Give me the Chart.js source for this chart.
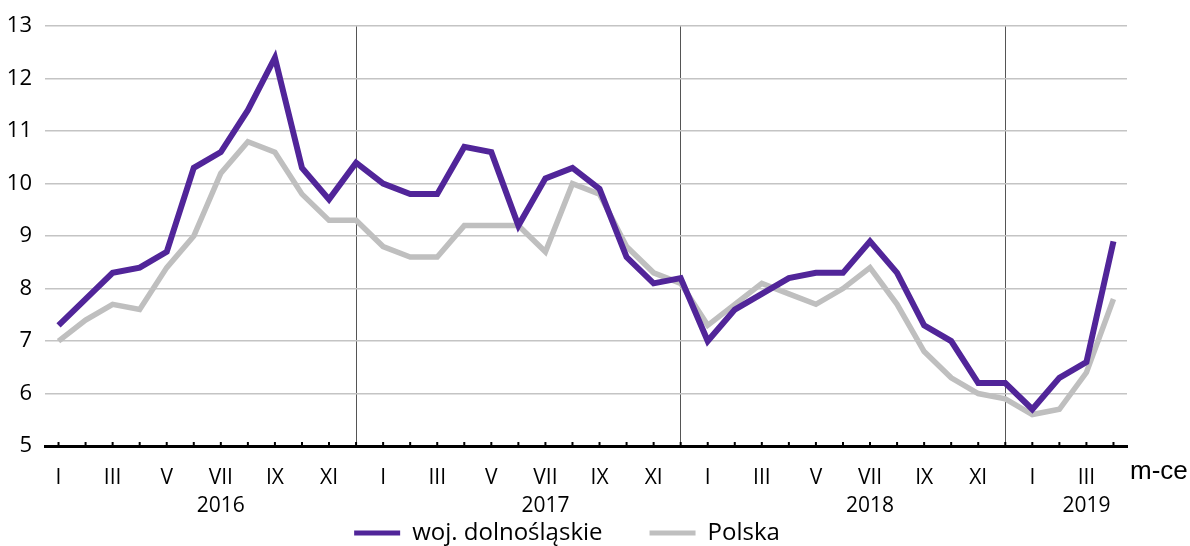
<!DOCTYPE html>
<html>
<head>
<meta charset="utf-8">
<script src="https://cdn.jsdelivr.net/npm/chart.js@4"></script>
<style>
  body { margin: 0; background: #fff; }
</style>
</head>
<body>
<canvas id="myChart" width="1190" height="546"></canvas>
<script>
// miesiące i lata na osi X
const months = ['I', 'II', 'III', 'IV', 'V', 'VI', 'VII', 'VIII', 'IX', 'X', 'XI', 'XII'];
const years = ['2016', '2017', '2018', '2019'];
const yearLabelAt = [6, 18, 30, 38];   // pod którym miesiącem stoi rok
const yearEndAt = [11, 23, 35];        // grudzień - pionowa linia

// I 2016 - IV 2019
const dolnoslaskie = [7.3, 7.8, 8.3, 8.4, 8.7, 10.3, 10.6, 11.4, 12.4, 10.3, 9.7, 10.4,
    10.0, 9.8, 9.8, 10.7, 10.6, 9.2, 10.1, 10.3, 9.9, 8.6, 8.1, 8.2,
    7.0, 7.6, 7.9, 8.2, 8.3, 8.3, 8.9, 8.3, 7.3, 7.0, 6.2, 6.2,
    5.7, 6.3, 6.6, 8.9];
const polska = [7.0, 7.4, 7.7, 7.6, 8.4, 9.0, 10.2, 10.8, 10.6, 9.8, 9.3, 9.3,
    8.8, 8.6, 8.6, 9.2, 9.2, 9.2, 8.7, 10.0, 9.8, 8.8, 8.3, 8.1,
    7.3, 7.7, 8.1, 7.9, 7.7, 8.0, 8.4, 7.7, 6.8, 6.3, 6.0, 5.9,
    5.6, 5.7, 6.4, 7.8];

const labels = dolnoslaskie.map((_, i) => months[i % 12]);

const purple = '#512599';
const grey = '#bfbfbf';

// kreski na osi X do środka wykresu + opis "m-ce"
const axisExtras = {
    id: 'axisExtras',
    afterLayout(chart) {
        // legenda wyżej niż pozwala layout - przesuwamy ją ręcznie
        const lg = chart.legend;
        lg.top = 474;
        lg.bottom = chart.height;
        lg.height = lg.bottom - lg.top;
    },
    afterDraw(chart) {
        const ctx = chart.ctx;
        const x = chart.scales.x;
        const bottom = chart.chartArea.bottom;
        ctx.save();
        ctx.strokeStyle = '#000';
        ctx.lineWidth = 2;
        for (let i = 0; i < labels.length; i++) {
            const px = x.getPixelForTick(i);
            ctx.beginPath();
            ctx.moveTo(px, bottom - 4);
            ctx.lineTo(px, bottom);
            ctx.stroke();
        }
        ctx.fillStyle = '#000';
        ctx.font = '26px "Liberation Sans", Arial, sans-serif';
        ctx.textBaseline = 'alphabetic';
        ctx.fillText('m-ce', chart.chartArea.right + 3, 479);
        ctx.restore();
    }
};

const ctx = document.getElementById('myChart').getContext('2d');
const myChart = new Chart(ctx, {
    type: 'line',
    data: {
        labels: labels,
        datasets: [
            {
                label: 'woj. dolnośląskie',
                data: dolnoslaskie,
                borderColor: purple,
                backgroundColor: purple,
                borderWidth: 6,
                pointRadius: 0,
                tension: 0,
                borderJoinStyle: 'miter'
            },
            {
                label: 'Polska',
                data: polska,
                borderColor: grey,
                backgroundColor: grey,
                borderWidth: 5.5,
                pointRadius: 0,
                tension: 0,
                borderJoinStyle: 'miter'
            }
        ]
    },
    options: {
        responsive: false,
        animation: false,
        layout: { padding: { left: 7, right: 63, top: 22, bottom: 0 } },
        plugins: {
            tooltip: { enabled: false },
            legend: {
                position: 'bottom',
                maxHeight: 25,
                labels: {
                    boxWidth: 46,
                    boxHeight: 5,
                    padding: 47,
                    color: '#000',
                    font: { family: '"Open Sans", sans-serif', size: 24 },
                    generateLabels(chart) {
                        return Chart.defaults.plugins.legend.labels.generateLabels(chart)
                            .map(l => ({ ...l, lineWidth: 0 }));
                    }
                }
            }
        },
        scales: {
            x: {
                offset: true,
                afterFit(scale) { scale.height = 75; },
                grid: {
                    offset: false,
                    drawTicks: false,
                    lineWidth: 1,
                    color: c => yearEndAt.includes(c.index) ? '#555' : 'rgba(0,0,0,0)'
                },
                border: { color: '#000', width: 3 },
                ticks: {
                    autoSkip: false,
                    maxRotation: 0,
                    padding: 18,
                    color: '#000',
                    font: { family: '"Open Sans", sans-serif', size: 21, lineHeight: 1.33 },
                    callback(value, index) {
                        const m = index % 2 === 0 ? labels[index] : '';
                        const yi = yearLabelAt.indexOf(index);
                        return yi >= 0 ? [m, years[yi]] : m;
                    }
                }
            },
            y: {
                min: 5,
                max: 13,
                afterFit(scale) { scale.width = 38; },
                grid: { drawTicks: false, color: '#c4c4c4', lineWidth: 1.5 },
                border: { display: false },
                ticks: {
                    stepSize: 1,
                    padding: 13,
                    color: '#000',
                    font: { family: '"Open Sans", sans-serif', size: 22 }
                }
            }
        }
    },
    plugins: [axisExtras]
});
</script>
</body>
</html>
